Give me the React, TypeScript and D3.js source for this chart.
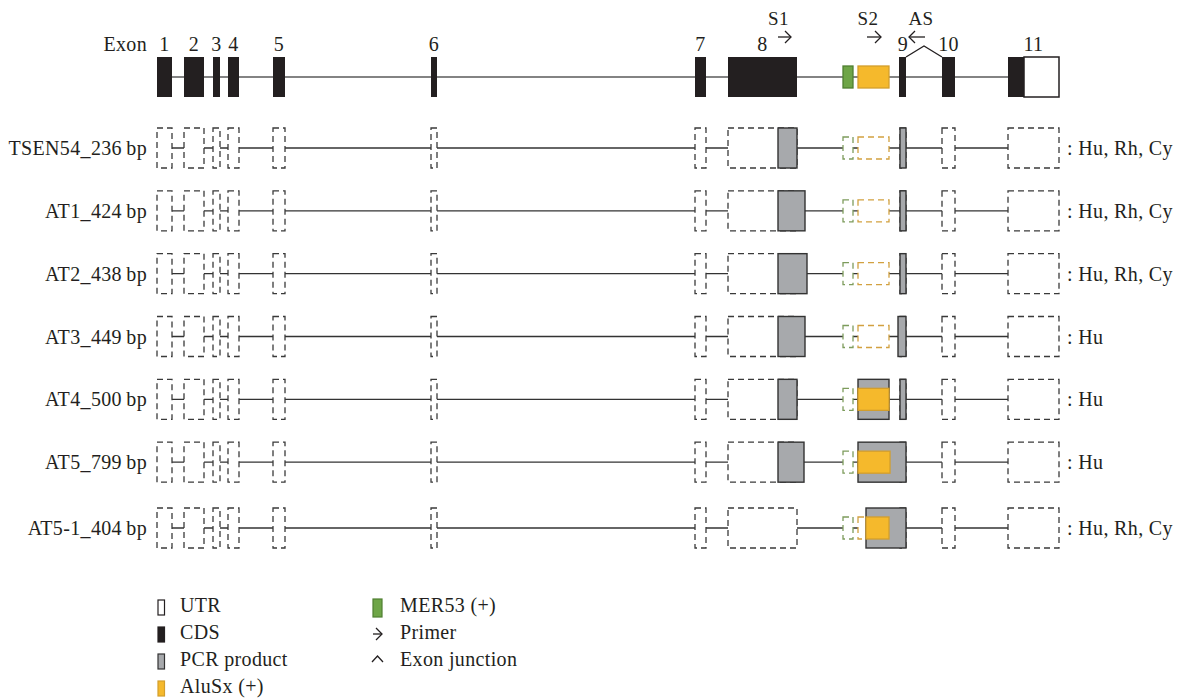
import React from 'react';
import * as d3 from 'd3';

// ---- gene model (positions in arbitrary map units) ----
const exonNames = ['1', '2', '3', '4', '5', '6', '7', '8', '9', '10', '11'];
const exonStart = [0, 27, 56, 71, 116, 274, 538, 571, 743, 785, 851];
const exonEnd = [15, 47, 63, 82, 128, 280, 549, 640, 749, 798, 902];
const exon11CdsEnd = 867;
const mer53 = [686, 696];
const aluSx = [701, 732];

// primers: [label, start, end, direction]
const primerNames = ['S1', 'S2', 'AS'];
const primerFrom = [621, 710, 768];
const primerTo = [634, 724, 752];

// junction caret between exon 9 and 10
const junction = [749, 767, 785];

// ---- isoforms ----
const isoformNames = ['TSEN54_236\u2009bp', 'AT1_424\u2009bp', 'AT2_438\u2009bp', 'AT3_449\u2009bp', 'AT4_500\u2009bp', 'AT5_799\u2009bp', 'AT5-1_404\u2009bp'];
const isoformSpecies = ['Hu, Rh, Cy', 'Hu, Rh, Cy', 'Hu, Rh, Cy', 'Hu', 'Hu', 'Hu', 'Hu, Rh, Cy'];
const pcrStart = [[621, 743], [621, 743], [621, 743], [621, 741], [621, 701, 743], [621, 701], [709]];
const pcrEnd = [[640, 749], [648, 749], [650, 749], [648, 749], [640, 732, 749], [647, 749], [749]];
const aluSolidStart = [null, null, null, null, 701, 701, 709];
const aluSolidEnd = [null, null, null, null, 732, 733, 732];

// ---- legend ----
const legendLeft = ['UTR', 'CDS', 'PCR product', 'AluSx (+)'];
const legendRight = ['MER53 (+)', 'Primer', 'Exon junction'];

const FONT = "'Liberation Serif', 'Times New Roman', serif";
const TXT = '#231f20';
const BLACK = '#231f20';
const GREY = '#a7a9ac';
const YELLOW = '#f5b92c';
const YELLOW_STROKE = '#d39e2c';
const GREEN = '#6ea547';
const GREEN_STROKE = '#4f7f31';
const DASH = '#3a3a3a';

export default function App() {
  const W = 1181;
  const H = 699;
  const x = d3.scaleLinear().domain([0, 902]).range([157, 1059]);
  const yRow = d3.scaleLinear().domain([0, 6]).range([148, 525]);
  const rowY = (i: number) => yRow(i) + (i === 6 ? 3 : 0);
  const topY = 77;
  const exH = 40;
  const repH = 22;
  const LS = 0.35;

  const arrow = (x1: number, x2: number, y: number, key: string) => {
    const dir = x2 > x1 ? 1 : -1;
    return (
      <g key={key} stroke={TXT} strokeWidth={1.3} fill="none">
        <line x1={x1} y1={y} x2={x2} y2={y} />
        <polyline points={`${x2 - dir * 6},${y - 6} ${x2},${y} ${x2 - dir * 6},${y + 6}`} />
      </g>
    );
  };

  return (
    <svg width={W} height={H} style={{ position: 'absolute', left: 0, top: 0, background: '#fff' }} fontFamily={FONT} letterSpacing={LS}>
      {/* ---------- top gene structure ---------- */}
      <text x={147} y={51} fontSize={20} fill={TXT} textAnchor="end">Exon</text>
      {exonNames.map((n, i) => (
        <text key={'en' + i} x={x((exonStart[i] + exonEnd[i]) / 2)} y={51} fontSize={20} fill={TXT} textAnchor="middle">{n}</text>
      ))}
      <line x1={x(0)} x2={x(902)} y1={topY} y2={topY} stroke="#5a5a5a" strokeWidth={1.6} />
      {exonNames.map((n, i) => {
        if (i === 10) {
          return (
            <g key={'ex' + i}>
              <rect x={x(exon11CdsEnd)} y={topY - exH / 2} width={x(exonEnd[i]) - x(exon11CdsEnd)} height={exH} fill="#fff" stroke={BLACK} strokeWidth={1.5} />
              <rect x={x(exonStart[i])} y={topY - exH / 2} width={x(exon11CdsEnd) - x(exonStart[i])} height={exH} fill={BLACK} />
            </g>
          );
        }
        const s = i === 8 ? 742 : exonStart[i];
        return <rect key={'ex' + i} x={x(s)} y={topY - exH / 2} width={x(exonEnd[i]) - x(s)} height={exH} fill={BLACK} />;
      })}
      <rect x={x(mer53[0])} y={topY - repH / 2} width={x(mer53[1]) - x(mer53[0])} height={repH} fill={GREEN} stroke={GREEN_STROKE} strokeWidth={1.3} />
      <rect x={x(aluSx[0])} y={topY - repH / 2} width={x(aluSx[1]) - x(aluSx[0])} height={repH} fill={YELLOW} stroke={YELLOW_STROKE} strokeWidth={1.3} />
      {primerNames.map((p, i) => (
        <g key={'pr' + i}>
          <text x={x((primerFrom[i] + primerTo[i]) / 2) - (i === 2 ? -4 : 6)} y={25} fontSize={19} fill={TXT} textAnchor="middle">{p}</text>
          {arrow(x(primerFrom[i]), x(primerTo[i]), 37, 'pa' + i)}
        </g>
      ))}
      <polyline points={`${x(junction[0])},${topY - exH / 2} ${x(junction[1])},${topY - exH / 2 - 11} ${x(junction[2])},${topY - exH / 2}`} fill="none" stroke={TXT} strokeWidth={1.3} />

      {/* ---------- isoforms ---------- */}
      {isoformNames.map((name, r) => {
        const cy = rowY(r);
        return (
          <g key={'row' + r}>
            <text x={147} y={cy + 7} fontSize={20} fill={TXT} textAnchor="end">{name}</text>
            <text x={1067} y={cy + 7} fontSize={20} fill={TXT}>{': ' + isoformSpecies[r]}</text>
            <line x1={x(0)} x2={x(902)} y1={cy} y2={cy} stroke="#333" strokeWidth={1.3} />
            {exonNames.map((n, i) => (
              <rect key={'d' + i} x={x(exonStart[i])} y={cy - exH / 2} width={x(exonEnd[i]) - x(exonStart[i])} height={exH} fill="#fff" stroke={DASH} strokeWidth={1.3} strokeDasharray="6,4" />
            ))}
            <rect x={x(mer53[0])} y={cy - repH / 2} width={x(mer53[1]) - x(mer53[0])} height={repH} fill="#fff" stroke="#7d9c5c" strokeWidth={1.3} strokeDasharray="6,4" />
            <rect x={x(aluSx[0])} y={cy - repH / 2} width={x(aluSx[1]) - x(aluSx[0])} height={repH} fill="#fff" stroke="#d2a140" strokeWidth={1.3} strokeDasharray="6,4" />
            {pcrStart[r].map((s, k) => (
              <rect key={'p' + k} x={x(s)} y={cy - exH / 2} width={x(pcrEnd[r][k]) - x(s)} height={exH} fill={GREY} stroke="#333" strokeWidth={1.4} />
            ))}
            {aluSolidStart[r] !== null && (
              <rect x={x(aluSolidStart[r] as number)} y={cy - repH / 2} width={x(aluSolidEnd[r] as number) - x(aluSolidStart[r] as number)} height={repH} fill={YELLOW} stroke={YELLOW_STROKE} strokeWidth={1.3} />
            )}
          </g>
        );
      })}

      {/* ---------- legend ---------- */}
      {legendLeft.map((t, i) => {
        const by = 612 + i * 27;
        const fills = ['#fff', BLACK, GREY, YELLOW];
        const strokes = [BLACK, BLACK, '#333', YELLOW_STROKE];
        return (
          <g key={'ll' + i}>
            <rect x={158} y={by - 12} width={6.5} height={15} fill={fills[i]} stroke={strokes[i]} strokeWidth={1.2} />
            <text x={180} y={by} fontSize={20} fill={TXT}>{t}</text>
          </g>
        );
      })}
      {legendRight.map((t, i) => {
        const by = 612 + i * 27;
        return (
          <g key={'lr' + i}>
            {i === 0 && <rect x={373} y={by - 13} width={9} height={18} fill={GREEN} stroke={GREEN_STROKE} strokeWidth={1.2} />}
            {i === 1 && arrow(373, 382, by - 5, 'la')}
            {i === 2 && <polyline points={`${372},${by - 4} ${377.5},${by - 10} ${383},${by - 4}`} fill="none" stroke={TXT} strokeWidth={1.3} />}
            <text x={400} y={by} fontSize={20} fill={TXT}>{t}</text>
          </g>
        );
      })}
    </svg>
  );
}
